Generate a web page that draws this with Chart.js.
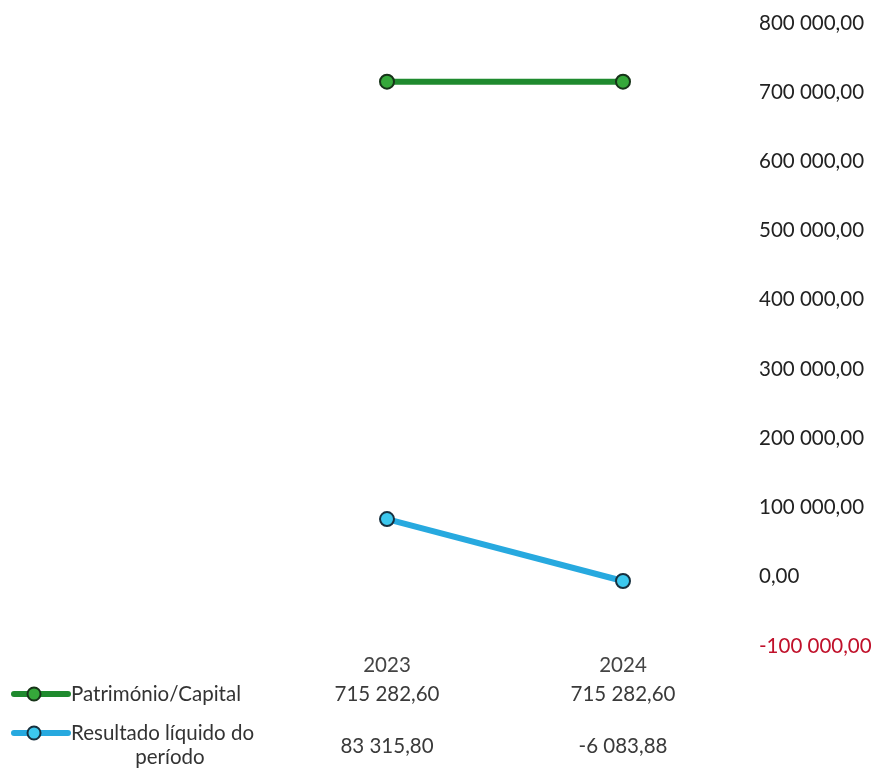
<!DOCTYPE html>
<html>
<head>
<meta charset="utf-8">
<script src="https://cdn.jsdelivr.net/npm/chart.js@4/dist/chart.umd.min.js"></script>
<style>
  html, body { margin: 0; padding: 0; background: #ffffff; }
  #wrap { width: 876px; height: 773px; position: relative; }
</style>
</head>
<body>
<div id="wrap"><canvas id="c" width="876" height="773"></canvas></div>
<script>
const categories = ["2023", "2024"];
const seriesNames = ["Património/Capital", "Resultado líquido do período"];
const seriesLabelLines = [["Património/Capital"], ["Resultado líquido do", "período"]];
const patrimonioValues = [715282.60, 715282.60];
const resultadoValues = [83315.80, -6083.88];
const tableText = [["715 282,60", "715 282,60"], ["83 315,80", "-6 083,88"]];
const yTicks = [800000, 700000, 600000, 500000, 400000, 300000, 200000, 100000, 0, -100000];

const FONT = "Lato";

function fmt(v) {
  const neg = v < 0;
  const a = Math.abs(v);
  const s = Math.floor(a).toString().replace(/\B(?=(\d{3})+(?!\d))/g, " ");
  const dec = (a - Math.floor(a)).toFixed(2).slice(2);
  return (neg ? "-" : "") + s + "," + dec;
}

const lineColors = ["#1f8a2e", "#27a9df"];
const pointFills = ["#35a83a", "#3cc8ee"];
const pointBorders = ["#163318", "#17303f"];

const tablePlugin = {
  id: "dataTable",
  afterDraw(chart) {
    const ctx = chart.ctx;
    const x = chart.scales.x;
    const rowY = [694, 746];
    ctx.save();
    ctx.font = "20.5px " + FONT;
    ctx.textBaseline = "middle";
    ctx.fillStyle = "#3a3a3a";
    ctx.textAlign = "center";
    tableText.forEach((row, r) => {
      row.forEach((t, i) => {
        ctx.fillText(t, x.getPixelForValue(i), rowY[r]);
      });
    });
    const keyY = [694, 733];
    seriesLabelLines.forEach((lines, r) => {
      const y = keyY[r];
      ctx.strokeStyle = lineColors[r];
      ctx.lineWidth = 6;
      ctx.lineCap = "round";
      ctx.beginPath();
      ctx.moveTo(14, y);
      ctx.lineTo(68, y);
      ctx.stroke();
      ctx.beginPath();
      ctx.arc(34, y, 6.5, 0, Math.PI * 2);
      ctx.fillStyle = pointFills[r];
      ctx.fill();
      ctx.lineWidth = 2;
      ctx.strokeStyle = pointBorders[r];
      ctx.stroke();
      ctx.fillStyle = "#333333";
      ctx.textAlign = "left";
      ctx.fillText(lines[0], 71, y);
      if (lines[1]) {
        ctx.textAlign = "center";
        ctx.fillText(lines[1], 170, y + 24);
      }
    });
    ctx.restore();
  }
};

new Chart(document.getElementById("c"), {
  type: "line",
  data: {
    labels: categories,
    datasets: [
      {
        label: seriesNames[0],
        data: patrimonioValues,
        borderColor: lineColors[0],
        borderWidth: 6,
        pointRadius: 7,
        pointBackgroundColor: pointFills[0],
        pointBorderColor: pointBorders[0],
        pointBorderWidth: 2,
        tension: 0
      },
      {
        label: seriesNames[1],
        data: resultadoValues,
        borderColor: lineColors[1],
        borderWidth: 6,
        pointRadius: 7,
        pointBackgroundColor: pointFills[1],
        pointBorderColor: pointBorders[1],
        pointBorderWidth: 2,
        tension: 0
      }
    ]
  },
  options: {
    responsive: false,
    animation: false,
    layout: { padding: { left: 269, top: 23, right: 0, bottom: 0 } },
    plugins: {
      legend: { display: false },
      tooltip: { enabled: false }
    },
    scales: {
      x: {
        type: "category",
        offset: true,
        grid: { display: false, drawTicks: false },
        border: { display: false },
        ticks: {
          padding: 7,
          color: "#444444",
          font: { family: FONT, size: 20.5 }
        },
        afterFit(s) { s.height = 127; }
      },
      y: {
        position: "right",
        min: -100000,
        max: 800000,
        afterBuildTicks(s) { s.ticks = yTicks.map(v => ({ value: v })); },
        grid: { display: false, drawTicks: false },
        border: { display: false },
        ticks: {
          padding: 18,
          color: (c) => (c.tick && c.tick.value < 0 ? "#c0102a" : "#222222"),
          font: { family: FONT, size: 20.5 },
          callback: (v) => fmt(v)
        },
        afterFit(s) { s.width = 135; s.paddingTop = 0; s.paddingBottom = 0; }
      }
    }
  },
  plugins: [tablePlugin]
});
</script>
</body>
</html>
